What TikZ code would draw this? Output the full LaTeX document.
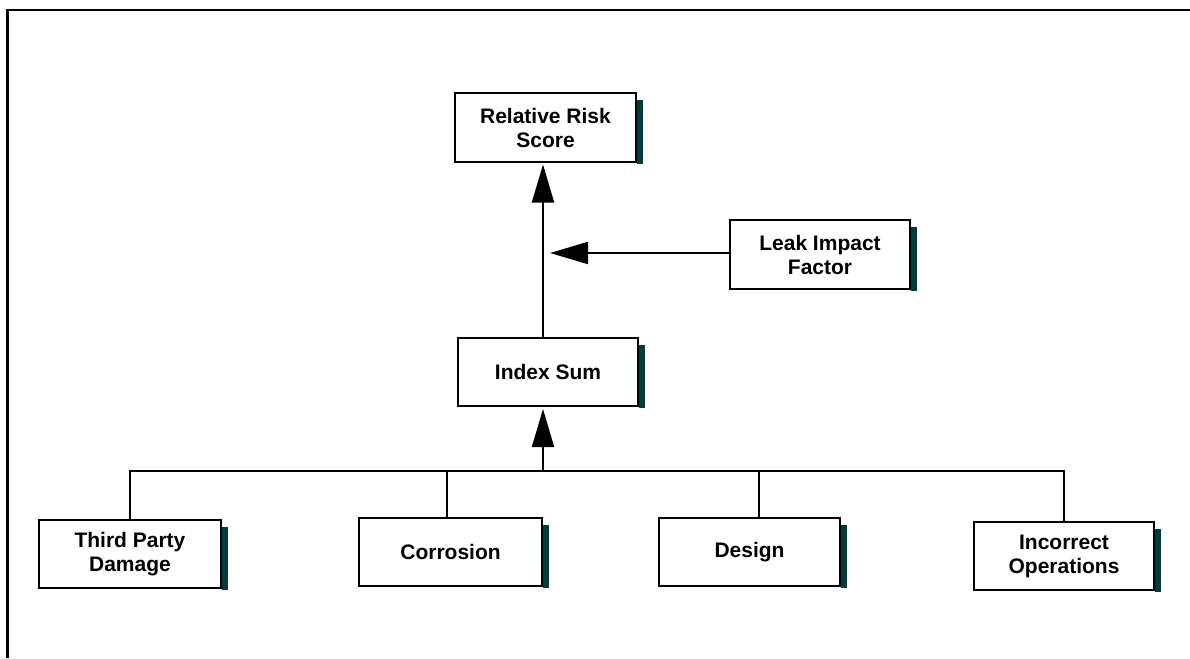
\documentclass[tikz,border=0pt]{standalone}
\usepackage{fontspec}
\setmainfont{Liberation Sans}
\usetikzlibrary{arrows.meta,backgrounds}
\definecolor{shadowc}{HTML}{003C3C}
\begin{document}
\begin{tikzpicture}[x=1pt,y=-1pt,
  box/.style={draw=black,line width=2pt,fill=white,inner sep=0pt,
    align=center,font=\bfseries\fontsize{21}{24}\selectfont,
    minimum height=68pt},
  conn/.style={line width=2pt},
  bigarrow/.style={line width=2pt,-{Triangle[length=38pt,width=22pt]}},
  frame/.style={line width=2.5pt}]
\useasboundingbox (0,0) rectangle (1190,658);
% frame (top and left only)
\draw[frame] (1190,10) -- (7.5,10) -- (7.5,658);
% nodes
\node[box,minimum width=181pt] (rrs) at (545.5,127.5) {Relative Risk\\Score};
\node[box,minimum width=180pt,minimum height=69pt] (lif) at (820,254.5) {Leak Impact\\Factor};
\node[box,minimum width=180pt] (is) at (548,372) {Index Sum};
\node[box,minimum width=182pt] (tpd) at (130,554) {Third Party\\Damage};
\node[box,minimum width=183pt] (cor) at (450.5,552) {Corrosion};
\node[box,minimum width=181pt] (des) at (749.5,552) {Design};
\node[box,minimum width=180pt] (io) at (1064,556) {Incorrect\\Operations};
% shadows
\begin{scope}[on background layer]
\foreach \n in {rrs,lif,is,tpd,cor,des,io}
  \fill[shadowc] ([yshift=-8pt]\n.north east) rectangle ([xshift=6pt,yshift=-1pt]\n.south east);
\end{scope}
% coordinates
\coordinate (trunk) at (543,0);
\coordinate (merge) at (543,253);
\coordinate (bus) at (0,471);
% connectors
\draw[bigarrow,shorten >=2pt] (is.north -| trunk) -- (rrs.south -| trunk);
\draw[bigarrow] (lif.west |- merge) -- ([xshift=7pt]merge);
\draw[bigarrow,shorten >=2pt] (bus -| trunk) -- (is.south -| trunk);
\draw[conn] (tpd.north) -- (tpd.north |- bus) -- (io.north |- bus) -- (io.north);
\draw[conn] (cor.north -| 447,0) -- (447,471);
\draw[conn] (des.north -| 759,0) -- (759,471);
\end{tikzpicture}
\end{document}
